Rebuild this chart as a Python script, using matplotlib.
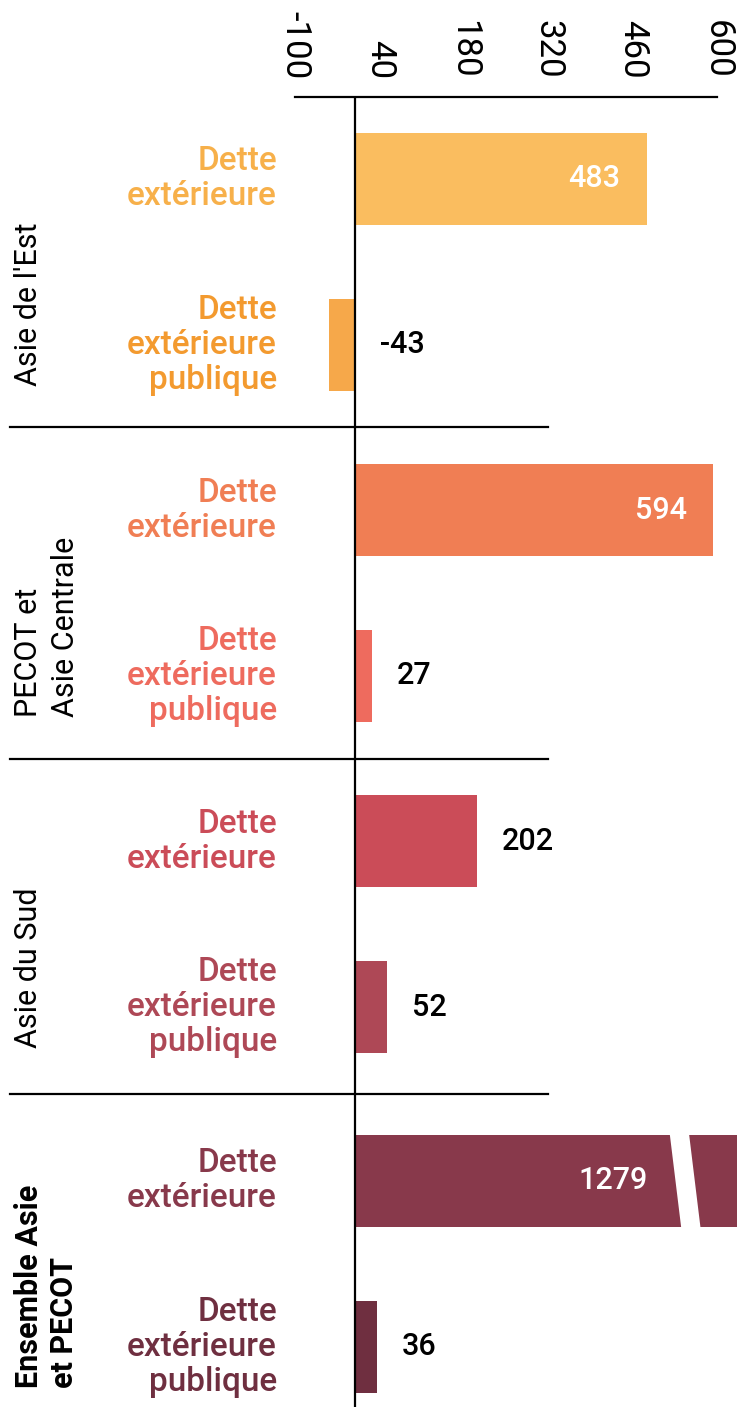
"""
Variation de la dette extérieure par région (Asie et PECOT)
Barres horizontales groupées, axe des valeurs en haut
"""
import numpy as np
import matplotlib.pyplot as plt
import matplotlib.transforms as mtransforms
from matplotlib.patches import Polygon

# Data
groups = ["Asie de l'Est", "PECOT et\nAsie Centrale", "Asie du Sud", "Ensemble Asie\net PECOT"]
series = ["Dette\nextérieure", "Dette\nextérieure\npublique"]
values = [483, -43, 594, 27, 202, 52, 1279, 36]
ticks = [-100, 40, 180, 320, 460, 600]

bar_colors = ['#FABD5F', '#F6A84A', '#F07E54', '#EE6B5E',
              '#CB4C58', '#AE4856', '#88394B', '#6F2F40']
label_colors = ['#F7B04A', '#F39A2F', '#F07E54', '#EE6B5E',
                '#CB4C58', '#AE4856', '#88394B', '#6F2F40']

W, H = 742, 1407
fig = plt.figure(figsize=(W / 100, H / 100), dpi=100)
ax = fig.add_axes([295 / W, 0, (737 - 295) / W, (H - 97) / H])

# bar positions: two bars per group, slightly wider gap before the total
extra = np.repeat([0, 0, 0, 0.05], 2)
ypos = np.arange(len(values)) + extra
bar_h = 0.556

xmax = 633
break_at = 547  # where oversized bars get cut

ax.barh(ypos, values, height=bar_h, color=bar_colors, zorder=2)

ax.set_xlim(-100, xmax)
ax.set_ylim(7.415, -0.495)

# value axis on top, rotated labels, no tick marks
ax.xaxis.tick_top()
ax.set_xticks(ticks)
ax.set_xticklabels([str(t) for t in ticks], rotation=270,
                   fontsize=25, family='Roboto', fontweight='normal')
ax.tick_params(axis='x', length=0, pad=13)
ax.set_yticks([])
for s in ax.spines.values():
    s.set_visible(False)
ax.plot([-100, 600], [1, 1], color='black', lw=1.6,
        transform=ax.get_xaxis_transform(), clip_on=False)
ax.axvline(0, color='black', lw=1.6, zorder=3)

# break marks on bars that run past the axis
for y, v in zip(ypos, values):
    if v > xmax:
        t, b = y - bar_h / 2 - 0.02, y + bar_h / 2 + 0.02
        shift = 10
        poly = Polygon([[break_at - 16 - shift, t], [break_at + 16 - shift, t],
                        [break_at + 16 + shift, b], [break_at - 16 + shift, b]],
                       closed=True, facecolor='white', edgecolor='none', zorder=4)
        ax.add_patch(poly)

# value labels
val_font = dict(fontsize=22, family='Roboto', fontweight='medium', zorder=5)
for y, v in zip(ypos, values):
    if v > xmax:
        ax.annotate(str(v), (break_at - 16, y), xytext=(-20, 0), textcoords='offset points',
                    ha='right', va='center', color='white', **val_font)
    elif v > 300:
        ax.annotate(str(v), (v, y), xytext=(-19, 0), textcoords='offset points',
                    ha='right', va='center', color='white', **val_font)
    else:
        ax.annotate(str(v), (max(v, 0), y), xytext=(18, 0), textcoords='offset points',
                    ha='left', va='center', color='black', **val_font)

trans = mtransforms.blended_transform_factory(fig.transFigure, ax.transData)

# series labels to the left of the bars
for i, y in enumerate(ypos):
    ax.text(277 / W, y, series[i % 2], transform=trans, ha='right', va='center',
            color=label_colors[i], fontsize=24, family='Roboto',
            fontweight='medium', linespacing=1.12)

# group labels and separators
for g, name in enumerate(groups):
    y_bottom = ypos[2 * g + 1] + bar_h / 2 - 0.03
    last = g == len(groups) - 1
    ax.text(14 / W, y_bottom, name, transform=trans, rotation=90,
            ha='left', va='bottom', multialignment='left', fontsize=22,
            family='Roboto', color='black', linespacing=1.2 if last else 1.35,
            fontweight='bold' if last else 'normal')
    if not last:
        ysep = (ypos[2 * g + 1] + ypos[2 * g + 2]) / 2
        ax.plot([10 / W, 548 / W], [ysep, ysep], color='black', lw=1.6,
                transform=trans, clip_on=False)

fig.savefig('out.png', dpi=100, facecolor='white')
